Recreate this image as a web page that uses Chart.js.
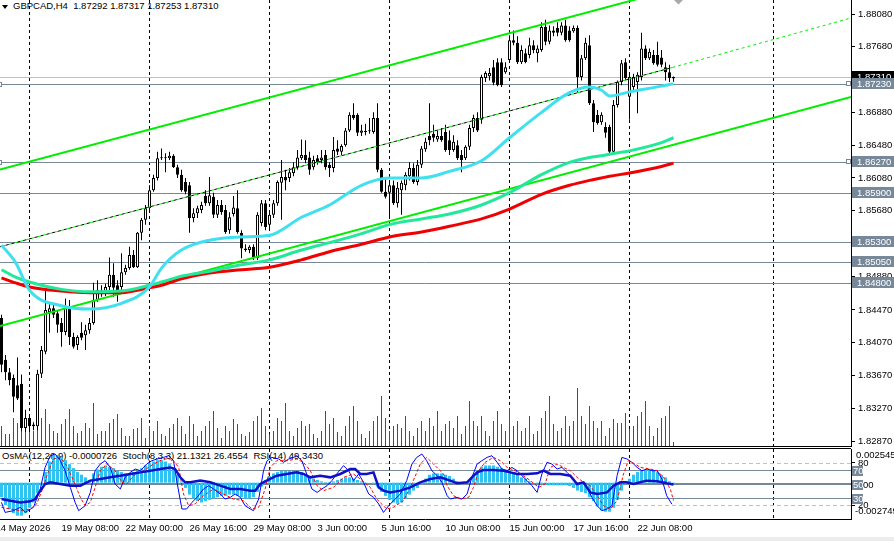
<!DOCTYPE html>
<html>
<head>
<meta charset="utf-8">
<title>GBPCAD,H4</title>
<script src="https://cdn.jsdelivr.net/npm/chart.js@4.4.1/dist/chart.umd.min.js"></script>
<style>
  html, body { margin: 0; padding: 0; background: #fff; }
  #wrap { position: relative; width: 894px; height: 541px; overflow: hidden; font-family: 'Liberation Sans', Arial, sans-serif; }
  canvas { position: absolute; left: 0; }
  #mainChart { top: 0; }
  #indChart { top: 447px; }
  .txt { position: absolute; font-size: 9.5px; line-height: 11px; color: #000; white-space: pre; }
  #symbol { left: 13px; top: 0; }
  #arrow { position: absolute; left: 2px; top: 5px; width: 0; height: 0; border-left: 3px solid transparent; border-right: 3px solid transparent; border-top: 4px solid #000; }
  #indTitle { left: 2px; top: 450px; }
  #footer { position: absolute; left: 0; top: 537px; width: 894px; height: 4px; background: #ececec; }
</style>
</head>
<body>
<div id="wrap">
  <div id="arrow"></div>
  <div class="txt" id="symbol">GBPCAD,H4  1.87292 1.87317 1.87253 1.87310</div>
  <div class="txt" id="indTitle">OsMA(12,26,9) -0.0000726  Stoch(8,3,3) 21.1321 26.4554  RSI(14) 49.3430</div>
  <canvas id="mainChart" width="894" height="447"></canvas>
  <canvas id="indChart" width="894" height="94"></canvas>
  <div id="footer"></div>
</div>
<script>
// --- свечи H4, индекс бара = позиция по оси X ---
const opens = [
  1.8437,1.8386,1.8371,1.8364,1.8355,1.8357,1.8303,1.8315,1.8305,1.8305,
  1.8369,1.8396,1.8444,1.8449,1.8443,1.8431,1.8420,1.8450,1.8414,1.8404,
  1.8419,1.8416,1.8422,1.8431,1.8459,1.8471,1.8468,1.8475,1.8490,1.8477,
  1.8475,1.8493,1.8498,1.8514,1.8499,1.8541,1.8557,1.8571,1.8593,1.8608,
  1.8632,1.8633,1.8632,1.8635,1.8621,1.8612,1.8603,1.8599,1.8559,1.8565,
  1.8569,1.8586,1.8577,1.8585,1.8563,1.8575,1.8569,1.8544,1.8564,1.8571,
  1.8541,1.8522,1.8520,1.8524,1.8510,1.8553,1.8577,1.8551,1.8563,1.8577,
  1.8602,1.8609,1.8608,1.8614,1.8621,1.8632,1.8636,1.8633,1.8621,1.8632,
  1.8630,1.8636,1.8624,1.8620,1.8644,1.8640,1.8648,1.8666,1.8685,1.8685,
  1.8663,1.8664,1.8665,1.8664,1.8681,1.8618,1.8591,1.8590,1.8599,1.8577,
  1.8593,1.8599,1.8610,1.8620,1.8603,1.8624,1.8643,1.8659,1.8662,1.8655,
  1.8659,1.8664,1.8654,1.8642,1.8648,1.8636,1.8632,1.8646,1.8669,1.8681,
  1.8679,1.8730,1.8732,1.8743,1.8749,1.8749,1.8737,1.8752,1.8776,1.8773,
  1.8749,1.8760,1.8758,1.8770,1.8760,1.8764,1.8792,1.8774,1.8788,1.8791,
  1.8785,1.8794,1.8788,1.8787,1.8791,1.8731,1.8754,1.8770,1.8699,1.8685,
  1.8676,1.8670,1.8670,1.8640,1.8697,1.8725,1.8749,1.8707,1.8719,1.8725,
  1.8731,1.8766,1.8754,1.8758,1.8758,1.8755,1.8743,1.8737,1.87292
];
const highs = [
  1.8441,1.8392,1.8376,1.8368,1.8389,1.8368,1.8325,1.8320,1.8310,1.8374,
  1.8403,1.8471,1.8455,1.8453,1.8447,1.8437,1.8461,1.8459,1.8419,1.8416,
  1.8432,1.8429,1.8437,1.8480,1.8483,1.8477,1.8479,1.8511,1.8504,1.8483,
  1.8516,1.8502,1.8524,1.8520,1.8542,1.8559,1.8575,1.8599,1.8612,1.8640,
  1.8644,1.8638,1.8640,1.8637,1.8624,1.8618,1.8608,1.8603,1.8571,1.8574,
  1.8579,1.8593,1.8609,1.8590,1.8581,1.8581,1.8575,1.8566,1.8586,1.8593,
  1.8544,1.8527,1.8526,1.8527,1.8566,1.8581,1.8581,1.8569,1.8581,1.8605,
  1.8630,1.8618,1.8620,1.8627,1.8642,1.8655,1.8654,1.8640,1.8635,1.8636,
  1.8642,1.8642,1.8627,1.8658,1.8654,1.8649,1.8669,1.8688,1.8699,1.8687,
  1.8673,1.8674,1.8681,1.8688,1.8699,1.8620,1.8608,1.8605,1.8605,1.8603,
  1.8605,1.8615,1.8627,1.8626,1.8630,1.8647,1.8657,1.8699,1.8673,1.8666,
  1.8669,1.8673,1.8666,1.8660,1.8654,1.8642,1.8648,1.8673,1.8685,1.8688,
  1.8734,1.8738,1.8742,1.8752,1.8754,1.8754,1.8749,1.8782,1.8788,1.8781,
  1.8770,1.8766,1.8779,1.8776,1.8770,1.8798,1.8801,1.8794,1.8793,1.8798,
  1.8798,1.8801,1.8793,1.8794,1.8794,1.8758,1.8779,1.8782,1.8703,1.8691,
  1.8688,1.8676,1.8673,1.8703,1.8727,1.8752,1.8754,1.8734,1.8735,1.8737,
  1.8785,1.8770,1.8766,1.8764,1.8774,1.8764,1.8749,1.8746,1.87317
];
const lows = [
  1.8371,1.8361,1.8355,1.8322,1.8337,1.8299,1.8298,1.8298,1.8300,1.8300,
  1.8364,1.8393,1.8419,1.8437,1.8419,1.8402,1.8416,1.8404,1.8400,1.8398,
  1.8410,1.8398,1.8418,1.8429,1.8457,1.8463,1.8464,1.8471,1.8463,1.8457,
  1.8471,1.8490,1.8496,1.8498,1.8498,1.8532,1.8551,1.8569,1.8591,1.8605,
  1.8630,1.8615,1.8630,1.8620,1.8608,1.8591,1.8588,1.8541,1.8554,1.8559,
  1.8565,1.8574,1.8574,1.8559,1.8559,1.8563,1.8540,1.8540,1.8561,1.8540,
  1.8510,1.8518,1.8516,1.8508,1.8508,1.8549,1.8544,1.8547,1.8559,1.8574,
  1.8557,1.8593,1.8603,1.8610,1.8618,1.8630,1.8626,1.8612,1.8618,1.8624,
  1.8626,1.8618,1.8609,1.8615,1.8636,1.8636,1.8646,1.8664,1.8679,1.8659,
  1.8659,1.8660,1.8662,1.8662,1.8615,1.8590,1.8583,1.8560,1.8575,1.8572,
  1.8563,1.8593,1.8605,1.8601,1.8599,1.8620,1.8640,1.8648,1.8652,1.8652,
  1.8652,1.8640,1.8636,1.8640,1.8630,1.8615,1.8630,1.8642,1.8664,1.8664,
  1.8674,1.8725,1.8727,1.8721,1.8720,1.8719,1.8735,1.8749,1.8770,1.8747,
  1.8747,1.8748,1.8754,1.8760,1.8749,1.8762,1.8770,1.8771,1.8781,1.8781,
  1.8782,1.8774,1.8774,1.8785,1.8712,1.8727,1.8752,1.8697,1.8664,1.8673,
  1.8673,1.8657,1.8637,1.8636,1.8694,1.8721,1.8727,1.8679,1.8715,1.8687,
  1.8727,1.8752,1.8752,1.8746,1.8744,1.8743,1.8727,1.8725,1.87253
];
const closes = [
  1.8380,1.8371,1.8361,1.8341,1.8339,1.8303,1.8315,1.8305,1.8307,1.8369,
  1.8398,1.8447,1.8449,1.8441,1.8429,1.8420,1.8450,1.8414,1.8402,1.8414,
  1.8413,1.8422,1.8431,1.8459,1.8471,1.8466,1.8475,1.8490,1.8474,1.8471,
  1.8493,1.8498,1.8514,1.8499,1.8541,1.8557,1.8571,1.8593,1.8608,1.8632,
  1.8633,1.8632,1.8635,1.8621,1.8612,1.8593,1.8591,1.8559,1.8565,1.8571,
  1.8575,1.8577,1.8587,1.8563,1.8575,1.8566,1.8542,1.8560,1.8572,1.8542,
  1.8522,1.8520,1.8524,1.8511,1.8563,1.8577,1.8548,1.8563,1.8577,1.8603,
  1.8609,1.8605,1.8615,1.8621,1.8633,1.8636,1.8630,1.8618,1.8630,1.8627,
  1.8633,1.8621,1.8620,1.8642,1.8640,1.8647,1.8666,1.8685,1.8681,1.8663,
  1.8666,1.8665,1.8666,1.8681,1.8618,1.8591,1.8585,1.8599,1.8577,1.8596,
  1.8602,1.8612,1.8620,1.8603,1.8624,1.8644,1.8652,1.8654,1.8657,1.8659,
  1.8654,1.8642,1.8642,1.8652,1.8632,1.8630,1.8646,1.8669,1.8681,1.8666,
  1.8731,1.8736,1.8736,1.8724,1.8721,1.8721,1.8743,1.8776,1.8773,1.8749,
  1.8764,1.8749,1.8770,1.8764,1.8766,1.8792,1.8774,1.8788,1.8785,1.8785,
  1.8794,1.8776,1.8776,1.8791,1.8731,1.8754,1.8773,1.8699,1.8676,1.8675,
  1.8685,1.8663,1.8640,1.8697,1.8725,1.8748,1.8730,1.8731,1.8731,1.8734,
  1.8766,1.8754,1.8762,1.8748,1.8746,1.8746,1.8737,1.8730,1.87310
];
const volumes = [
  1000,600,600,1400,1150,1350,1650,1400,750,1000,
  1400,1850,1100,750,650,1100,1350,1850,1000,650,
  750,1150,900,2150,600,750,750,1150,1350,1600,
  900,500,500,850,900,1400,400,1000,750,1250,
  600,500,900,1100,1400,1000,600,1500,1100,500,
  750,1000,1250,1750,900,400,1000,750,1350,1100,
  600,500,700,1250,1500,1900,1000,600,750,1400,
  1250,2150,750,500,900,1250,1000,1100,600,400,
  750,1750,1100,1400,700,500,1000,1500,2000,1250,
  600,400,750,1250,1500,2500,1400,750,1000,1100,
  900,1500,750,500,900,1250,750,1400,1000,1750,
  750,1100,1250,900,1500,600,1000,2250,1250,1000,
  1500,750,500,1250,1750,1100,750,1900,1000,1250,
  750,900,1500,600,750,1400,1750,2500,1100,750,
  900,1500,1000,1250,2900,1500,1100,2000,1250,900,
  1250,500,900,1350,1150,1150,1650,850,1000,1500,
  1700,2250,1000,500,900,1400,1500,2000,200
];

// скользящие средние (бар -> значение)
const maIdx  = [0, 3.5, 7, 15, 22, 30, 37, 40, 45, 52, 60, 67, 75, 82, 90, 97, 105, 112, 120, 127, 135, 142, 147, 150, 152, 157, 165, 168];
const maFast = [1.8526,1.8505,1.8471,1.8452,1.8448,1.8455,1.8475,1.8498,1.8520,1.8532,1.8536,1.8538,1.8560,1.8575,1.8599,1.8608,1.8608,1.8616,1.8629,1.8657,1.8688,1.8712,1.8719,1.8715,1.8708,1.8713,1.8720,1.8723];
const maMid  = [1.8496,1.8487,1.8481,1.8472,1.8469,1.8470,1.8477,1.8481,1.8488,1.8494,1.8502,1.8508,1.8520,1.8529,1.8540,1.8551,1.8558,1.8564,1.8575,1.8590,1.8612,1.8627,1.8633,1.8635,1.8637,1.8641,1.8651,1.8657];
const maSlow = [1.8486,1.8480,1.8475,1.8470,1.8468,1.8468,1.8474,1.8477,1.8485,1.8492,1.8496,1.8499,1.8508,1.8518,1.8527,1.8536,1.8542,1.8549,1.8558,1.8570,1.8588,1.8599,1.8605,1.8608,1.8610,1.8614,1.8622,1.8626];

// канал (две точки на линию)
const chanX = [-0.375, 212.375];
const chanUpper = [1.86183, 1.88960];
const chanLower = [1.84273, 1.87067];
const midX = [-0.375, 167.7];
const midY = [1.85240, 1.87427];
const rayX = [167.7, 212.375];
const rayY = [1.87427, 1.88031];

// уровни
const levels = [1.87230, 1.86270, 1.85900, 1.85300, 1.85050, 1.84800];
const markedLevels = [1.87230, 1.86270];
const bidPrice = 1.87310;
const priceTicks = [1.88080, 1.87680, 1.87280, 1.86880, 1.86480, 1.86080, 1.85680, 1.85280, 1.84880, 1.84470, 1.84070, 1.83670, 1.83270, 1.82870];
const PRICE_MIN = 1.8280914, PRICE_MAX = 1.8825082;

// время
const timeIdx = [-1.5, 15, 31, 47, 63, 79, 95, 111, 127, 143, 159];
const timeLabels = ['14 May 2026', '19 May 08:00', '22 May 00:00', '26 May 16:00', '29 May 08:00', '3 Jun 00:00', '5 Jun 16:00', '10 Jun 08:00', '15 Jun 00:00', '17 Jun 16:00', '22 Jun 08:00'];
const gridIdx = [7, 37, 67, 97, 127, 157, 193];
const X_MIN = -0.375, X_MAX = 212.375;

// OsMA / Stoch / RSI
const osma = [
  -0.0011,-0.0017,-0.0020,-0.0023,-0.0025,-0.0025,-0.0023,-0.0019,-0.0015,-0.0008,
  -0.0002,0.0008,0.0016,0.0021,0.0021,0.0019,0.0017,0.0014,0.0011,0.0008,
  0.0006,0.0004,0.0002,0.0007,0.0010,0.0012,0.0013,0.0012,0.0011,0.0009,
  0.0008,0.0007,0.0007,0.0008,0.0009,0.0011,0.0013,0.0015,0.0016,0.0017,
  0.0017,0.0016,0.0014,0.0011,0.0006,0.0001,-0.0004,-0.0009,-0.0012,-0.0014,
  -0.0015,-0.0014,-0.0013,-0.0012,-0.0011,-0.0010,-0.0010,-0.0009,-0.0009,-0.0010,
  -0.0011,-0.0012,-0.0012,-0.0011,-0.0007,-0.0003,0.0002,0.0005,0.0007,0.0008,
  0.0009,0.0009,0.0009,0.0009,0.0009,0.0008,0.0006,0.0004,0.0003,0.0002,
  0.0001,0.00005,0.00005,0.0001,0.0002,0.0003,0.0004,0.0004,0.0003,0.0002,
  0.0001,0.00003,0,-0.0001,-0.0003,-0.0007,-0.0010,-0.0013,-0.0015,-0.0016,
  -0.0015,-0.0012,-0.0009,-0.0006,-0.0004,-0.0001,0.0003,0.0006,0.0007,0.0007,
  0.0007,0.0006,0.0005,0.0003,0.0001,0,-0.00005,0.0001,0.0005,0.0009,
  0.0012,0.0013,0.0013,0.0013,0.0012,0.0011,0.0010,0.0009,0.0008,0.0006,
  0.0004,0.0003,0.0001,0,-0.00005,-0.0001,-0.00015,-0.0002,-0.0002,-0.0002,
  -0.0002,-0.0002,-0.00025,-0.0004,-0.0006,-0.0007,-0.0008,-0.0011,-0.0014,-0.0018,
  -0.0021,-0.0022,-0.0022,-0.0019,-0.0013,-0.0006,-0.0001,0.0003,0.0006,0.0008,
  0.0009,0.0010,0.0010,0.0009,0.0008,0.0006,0.0004,0.0001,-0.0000726
];
const stochX = [0,0.9,3,4.7,5.9,8,9.7,10.9,12.2,13.4,14.7,15.9,17.2,18.4,19.3,20.9,22.2,23.4,24.7,25.9,27.2,28.4,29.7,30.9,32.2,33.4,34.7,36.3,37.6,38.9,40.5,41.8,43,43.8,45.1,46.3,47.6,48.9,50.5,51.8,53,54.7,55.9,57.2,58.4,59.7,60.9,62.2,63,64.3,65.5,66.4,67.6,69.3,70.5,71.8,73,73.8,75.1,76.3,77.6,78.9,80.1,81.4,82.6,83.8,85.5,86.8,88,89.3,90.5,91.8,93,94.3,95.5,96.8,98,99.7,101.3,102.6,103.8,105.1,106.3,107.6,108.9,110.1,111.4,112.2,113.9,115.1,116.4,117.6,118.9,120.1,121.4,122.6,123.9,125.1,126.4,127.6,128.9,130.1,131.4,132.6,133.9,135.1,136.4,137.6,138.9,140.1,141.4,142.6,143.9,145.1,146.4,147.6,148.9,150.1,151.4,152.6,153.9,155.1,156.4,157.6,158.9,160.1,161.4,162.6,163.9,165.1,166.3,167.6];
const stochMain = [23.7,9.4,11.9,16.7,9.4,16.7,42.9,73.7,90.4,92.8,83.3,69,45.2,23.7,11.9,19,38,69,78.5,83.3,73.7,50,42.9,59.5,66.6,71.4,69,78.5,83.3,85.7,88,90.4,83.3,54.8,14.3,14.3,23.7,31,42.9,47.6,42.9,35.7,28.5,31,35.7,31,19,14.3,11.9,28.5,69,83.3,88,85.7,81,85.7,88,90.4,83.3,64.3,42.9,38,42.9,47.6,54.8,64.3,76.2,69,54.8,64.3,52.4,35.7,31,21.5,9.4,19,26.2,35.7,54.8,78.5,88,92.8,83.3,69,61.9,52.4,33.3,28.5,31,28.5,35.7,59.5,78.5,83.3,88,90.4,81,71.4,69,73.7,69,61.9,54.8,47.6,38,64.3,81,78.5,71.4,73.7,66.6,59.5,50,52.4,45.2,31,19,11.9,14.3,19,61.9,88,85.7,81,73.7,69,71.4,69,69,57.1,33.3,21.1];
const sigX = [0,2.2,4.7,7.2,8.8,10.1,11.8,13,14.7,16.3,18,19.7,20.9,22.2,23.4,24.7,26.3,28.4,30.1,31.3,33,35.5,38,40.5,42.6,44.3,45.5,46.8,48.4,50.5,53,55.5,58,60.5,62.6,64.3,65.9,67.2,68.8,71.4,73.8,75.5,77.2,78.9,80.5,83,85.5,88,89.7,92.2,93.8,96.3,98,100.5,102.6,104.7,106.3,108,110.5,111.4,113,114.7,116.8,118,119.3,120.9,123,124.7,126.4,128.4,130.5,132.2,134.3,135.9,137.2,138.9,140.5,142.2,143.9,145.5,147.2,148.9,150.5,152.2,153.9,155.5,156.7,158.4,159.7,162.2,163.9,165.5,167.2,168];
const stochSignal = [16.7,14.3,11.9,14.3,21.5,40.5,69,85.7,88,76.2,54.8,31,19,23.7,45.2,69,78.5,69,52.4,50,61.9,69,78.5,85.7,85.7,73.7,35.7,19,21.5,33.3,42.9,35.7,28.5,26.2,14.3,16.7,42.9,73.7,83.3,83.3,85.7,81,69,47.6,40.5,45.2,59.5,64.3,57.1,45.2,28.5,14.3,16.7,26.2,50,78.5,88,78.5,64.3,47.6,33.3,28.5,31,45.2,69,81,88,83.3,73.7,69,61.9,54.8,45.2,50,73.7,78.5,73.7,69,59.5,52.4,47.6,33.3,19,14.3,26.2,64.3,83.3,78.5,73.7,71.4,69,59.5,42.9,26.5];
const rsiX = [0,2.2,4.7,7.2,8.4,9.7,10.9,12.2,14.7,17.2,19.7,22.2,24.7,27.2,29.7,32.2,34.7,37.2,39.7,42.2,43.4,44.7,45.9,47.2,49.7,52.2,54.7,57.2,59.7,62.2,63.4,64.7,66.3,68.8,71.3,73.8,75.5,77.2,79.7,82.2,84.7,87.2,88.4,89.7,91.3,93,94.3,95.5,97.2,99.7,102.2,104.7,107.2,109.7,112.2,113.9,116.4,117.6,118.9,120.5,123,125.5,127.2,128.9,131.4,133.9,135.5,137.2,139.7,142.2,143.9,145.5,147.2,148.9,151.4,153,154.7,156.3,158,159.7,161.3,163.9,166.3,168];
const rsiVals = [28.5,26.2,23.7,25.2,28.5,40.5,50,52.4,50,47.6,47.6,54.8,57.1,59.5,61.9,64.3,66.6,69,71.4,73.7,71.4,59.5,52.4,52.4,54.8,52.4,47.6,42.9,42.9,40.5,40.5,50,54.8,61.9,64.3,66.6,64.3,59.5,61.9,59.5,64.3,71.4,71.4,64.3,64.3,66.6,45.2,40.5,38,40.5,45.2,52.4,57.1,59.5,54.8,51.2,52.4,59.5,66.6,70,70,69,66.6,64.3,64.3,65.2,69,64.3,64.3,61.9,50,52.4,38,35.7,38,47.6,52.4,52.4,50,52.4,54.8,53.8,51,49.3];
const indLevels = { dashed: [80, 20], solid: [70, 30], mid: 50 };
const OSMA_MIN = -0.002749, OSMA_MAX = 0.002545;

const LEVEL_COLOR = '#778899';
const FONT = "'Liberation Sans', Arial, sans-serif";
Chart.defaults.font.family = FONT;
Chart.defaults.font.size = 9.5;
Chart.defaults.color = '#000';

const pts = (xs, ys) => xs.map((x, k) => ({ x: x, y: ys[k] }));
const bars = closes.map((c, i) => i);

function drawVGrid(chart) {
  const { ctx, chartArea: a, scales } = chart;
  ctx.save();
  ctx.strokeStyle = '#000';
  ctx.lineWidth = 1;
  ctx.setLineDash([3, 3]);
  gridIdx.forEach(v => {
    const x = Math.floor(scales.x.getPixelForValue(v)) + 0.5;
    ctx.beginPath(); ctx.moveTo(x, a.top); ctx.lineTo(x, a.bottom); ctx.stroke();
  });
  ctx.restore();
}

function hLine(ctx, a, y) {
  ctx.beginPath(); ctx.moveTo(a.left, y); ctx.lineTo(a.right, y); ctx.stroke();
}

function tagBox(ctx, y, text, bg, top, h) {
  ctx.fillStyle = bg;
  ctx.fillRect(852, Math.round(y) + top, 42, h);
  ctx.fillStyle = '#fff';
  ctx.textBaseline = 'middle';
  ctx.textAlign = 'left';
  ctx.fillText(text, 857, Math.round(y) + 0.5);
}

// панель цены: сетка, уровни, плашки цен
const mainOverlay = {
  id: 'mainOverlay',
  beforeDatasetsDraw(chart) {
    drawVGrid(chart);
    const { ctx, chartArea: a, scales: { y } } = chart;
    ctx.save();
    ctx.lineWidth = 1;
    ctx.strokeStyle = '#c0c0c0';
    hLine(ctx, a, Math.round(y.getPixelForValue(bidPrice)) + 0.5);
    ctx.strokeStyle = LEVEL_COLOR;
    levels.forEach(v => hLine(ctx, a, Math.round(y.getPixelForValue(v)) + 0.5));
    ctx.restore();
  },
  afterDraw(chart) {
    const { ctx, chartArea: a, scales: { y } } = chart;
    ctx.save();
    ctx.font = '9.5px ' + FONT;
    tagBox(ctx, y.getPixelForValue(bidPrice), bidPrice.toFixed(5), '#000', -6, 11);
    levels.forEach(v => tagBox(ctx, y.getPixelForValue(v), v.toFixed(5), LEVEL_COLOR, -6, 11));
    // маркеры выделенных линий
    ctx.fillStyle = '#fff';
    ctx.strokeStyle = LEVEL_COLOR;
    markedLevels.forEach(v => {
      const py = Math.round(y.getPixelForValue(v));
      ctx.fillRect(-2, py - 2, 4, 4); ctx.strokeRect(-1.5, py - 1.5, 3, 4);
      ctx.fillRect(847, py - 2, 4, 4); ctx.strokeRect(846.5, py - 2.5, 4, 4);
    });
    // стрелка у верхнего края
    ctx.fillStyle = '#a8a8a8';
    ctx.beginPath(); ctx.moveTo(674, 0); ctx.lineTo(683, 0); ctx.lineTo(678.5, 4.5); ctx.closePath(); ctx.fill();
    // нижняя граница окна
    ctx.strokeStyle = '#000';
    ctx.beginPath(); ctx.moveTo(0, a.bottom + 0.5); ctx.lineTo(a.right, a.bottom + 0.5); ctx.stroke();
    ctx.restore();
  }
};

new Chart(document.getElementById('mainChart'), {
  type: 'bar',
  data: {
    datasets: [
      { type: 'line', data: pts(maIdx, maFast), borderColor: '#40e0f0', borderWidth: 3, pointRadius: 0, cubicInterpolationMode: 'monotone', order: 0 },
      { type: 'line', data: pts(maIdx, maMid), borderColor: '#22e89a', borderWidth: 3, pointRadius: 0, cubicInterpolationMode: 'monotone', order: 0 },
      { type: 'line', data: pts(maIdx, maSlow), borderColor: '#f00000', borderWidth: 3, pointRadius: 0, cubicInterpolationMode: 'monotone', order: 0 },
      { type: 'line', data: pts(chanX, chanUpper), borderColor: '#00ee00', borderWidth: 2, pointRadius: 0, order: 1 },
      { type: 'line', data: pts(chanX, chanLower), borderColor: '#00ee00', borderWidth: 2, pointRadius: 0, order: 1 },
      { type: 'line', data: pts(midX, midY), borderColor: '#000', borderWidth: 1, borderDash: [3, 3], pointRadius: 0, order: 1 },
      { type: 'line', data: pts(midX, midY), borderColor: '#00ee00', borderWidth: 1, borderDash: [3, 3], borderDashOffset: 3, pointRadius: 0, order: 1 },
      { type: 'line', data: pts(rayX, rayY), borderColor: '#00ee00', borderWidth: 1, borderDash: [3, 3], pointRadius: 0, order: 1 },
      { type: 'bar', data: bars.map(i => ({ x: i, y: [opens[i], closes[i]] })),
        backgroundColor: bars.map(i => closes[i] >= opens[i] ? '#fff' : '#000'),
        borderColor: '#000', borderWidth: 1, borderSkipped: false, barThickness: 3, minBarLength: 1,
        grouped: false, inflateAmount: 0, order: 2 },
      { type: 'bar', data: bars.map(i => ({ x: i, y: [lows[i], highs[i]] })),
        backgroundColor: '#000', borderWidth: 0, barThickness: 1, grouped: false, inflateAmount: 0, order: 3 },
      { type: 'bar', yAxisID: 'yv', data: bars.map(i => ({ x: i, y: volumes[i] })),
        backgroundColor: '#0a7d0a', borderWidth: 0, barThickness: 1, grouped: false, inflateAmount: 0, order: 4 }
    ]
  },
  options: {
    responsive: false,
    animation: false,
    layout: { padding: { left: 0, right: 0, top: 0, bottom: 1 } },
    plugins: { legend: { display: false }, tooltip: { enabled: false } },
    scales: {
      x: { type: 'linear', min: X_MIN, max: X_MAX, offset: false, display: false },
      y: {
        position: 'right', min: PRICE_MIN, max: PRICE_MAX,
        afterBuildTicks: s => { s.ticks = priceTicks.map(v => ({ value: v })); },
        afterFit: s => { s.width = 43; s.paddingTop = 0; s.paddingBottom = 0; },
        ticks: { autoSkip: false, padding: 3, callback: v => v.toFixed(5) },
        grid: { drawOnChartArea: false, drawTicks: true, tickLength: 4, color: '#000' },
        border: { display: true, color: '#000' }
      },
      yv: { display: false, min: 0, max: 22300 }
    }
  },
  plugins: [mainOverlay]
});

// нижнее окно: OsMA, Stochastic, RSI
const indOverlay = {
  id: 'indOverlay',
  beforeDatasetsDraw(chart) {
    drawVGrid(chart);
    const { ctx, chartArea: a, scales: { ys } } = chart;
    ctx.save();
    ctx.lineWidth = 1;
    ctx.strokeStyle = '#c0c0c0';
    ctx.setLineDash([4, 3]);
    indLevels.dashed.forEach(v => hLine(ctx, a, Math.round(ys.getPixelForValue(v)) + 0.5));
    ctx.setLineDash([]);
    ctx.strokeStyle = LEVEL_COLOR;
    indLevels.solid.forEach(v => hLine(ctx, a, Math.round(ys.getPixelForValue(v)) + 0.5));
    ctx.lineWidth = 2;
    hLine(ctx, a, Math.round(ys.getPixelForValue(indLevels.mid)));
    ctx.restore();
  },
  afterDraw(chart) {
    const { ctx, chartArea: a, scales: { ys } } = chart;
    ctx.save();
    ctx.font = '9.5px ' + FONT;
    ctx.textBaseline = 'middle';
    ctx.fillStyle = '#000';
    ctx.fillText(OSMA_MAX.toFixed(6), 856, a.top + 6);
    ctx.fillText(OSMA_MIN.toFixed(6), 855, a.bottom - 8);
    [70, 50, 30].forEach(v => {
      const py = Math.round(ys.getPixelForValue(v));
      ctx.fillStyle = LEVEL_COLOR;
      ctx.fillRect(852, py - 4, 11, 10);
      ctx.fillStyle = '#fff';
      ctx.fillText(String(v), 853, py + 1);
    });
    ctx.fillStyle = '#000';
    ctx.fillText('00', 863, Math.round(ys.getPixelForValue(50)) + 1);
    ctx.strokeStyle = '#000';
    ctx.lineWidth = 1;
    ctx.beginPath(); ctx.moveTo(0, a.top - 0.5); ctx.lineTo(a.right, a.top - 0.5); ctx.stroke();
    ctx.beginPath(); ctx.moveTo(0, a.bottom + 0.5); ctx.lineTo(a.right, a.bottom + 0.5); ctx.stroke();
    ctx.restore();
  }
};

new Chart(document.getElementById('indChart'), {
  type: 'bar',
  data: {
    datasets: [
      { type: 'line', yAxisID: 'ys', data: pts(rsiX, rsiVals), borderColor: '#1010c8', borderWidth: 2.5, pointRadius: 0, order: 0 },
      { type: 'line', yAxisID: 'ys', data: pts(sigX, stochSignal), borderColor: '#ff0000', borderWidth: 1, borderDash: [3, 2], pointRadius: 0, order: 1 },
      { type: 'line', yAxisID: 'ys', data: pts(stochX, stochMain), borderColor: '#0000ff', borderWidth: 1, pointRadius: 0, order: 2 },
      { type: 'bar', yAxisID: 'yo', data: bars.map(i => ({ x: i, y: osma[i] })),
        backgroundColor: '#2fc3f2', borderWidth: 0, barThickness: 3, grouped: false, inflateAmount: 0, order: 3 }
    ]
  },
  options: {
    responsive: false,
    animation: false,
    layout: { padding: { left: 0, right: 0, top: 2, bottom: 0 } },
    plugins: { legend: { display: false }, tooltip: { enabled: false } },
    scales: {
      x: {
        type: 'linear', min: X_MIN, max: X_MAX, offset: false, position: 'bottom',
        afterBuildTicks: s => { s.ticks = timeIdx.map(v => ({ value: v })); },
        afterFit: s => { s.height = 22; s.paddingLeft = 0; s.paddingRight = 0; },
        ticks: { autoSkip: false, maxRotation: 0, minRotation: 0, align: 'start', padding: 4, callback: (v, k) => timeLabels[k] },
        grid: { display: false, drawTicks: false },
        border: { display: false }
      },
      ys: {
        position: 'right', min: 0, max: 100,
        afterBuildTicks: s => { s.ticks = indLevels.dashed.map(v => ({ value: v })); },
        afterFit: s => { s.width = 43; s.paddingTop = 0; s.paddingBottom = 0; },
        ticks: { autoSkip: false, padding: 3, callback: v => String(v) },
        grid: { drawOnChartArea: false, drawTicks: true, tickLength: 4, color: '#000' },
        border: { display: true, color: '#000' }
      },
      yo: { display: false, min: OSMA_MIN, max: OSMA_MAX }
    }
  },
  plugins: [indOverlay]
});
</script>
</body>
</html>
